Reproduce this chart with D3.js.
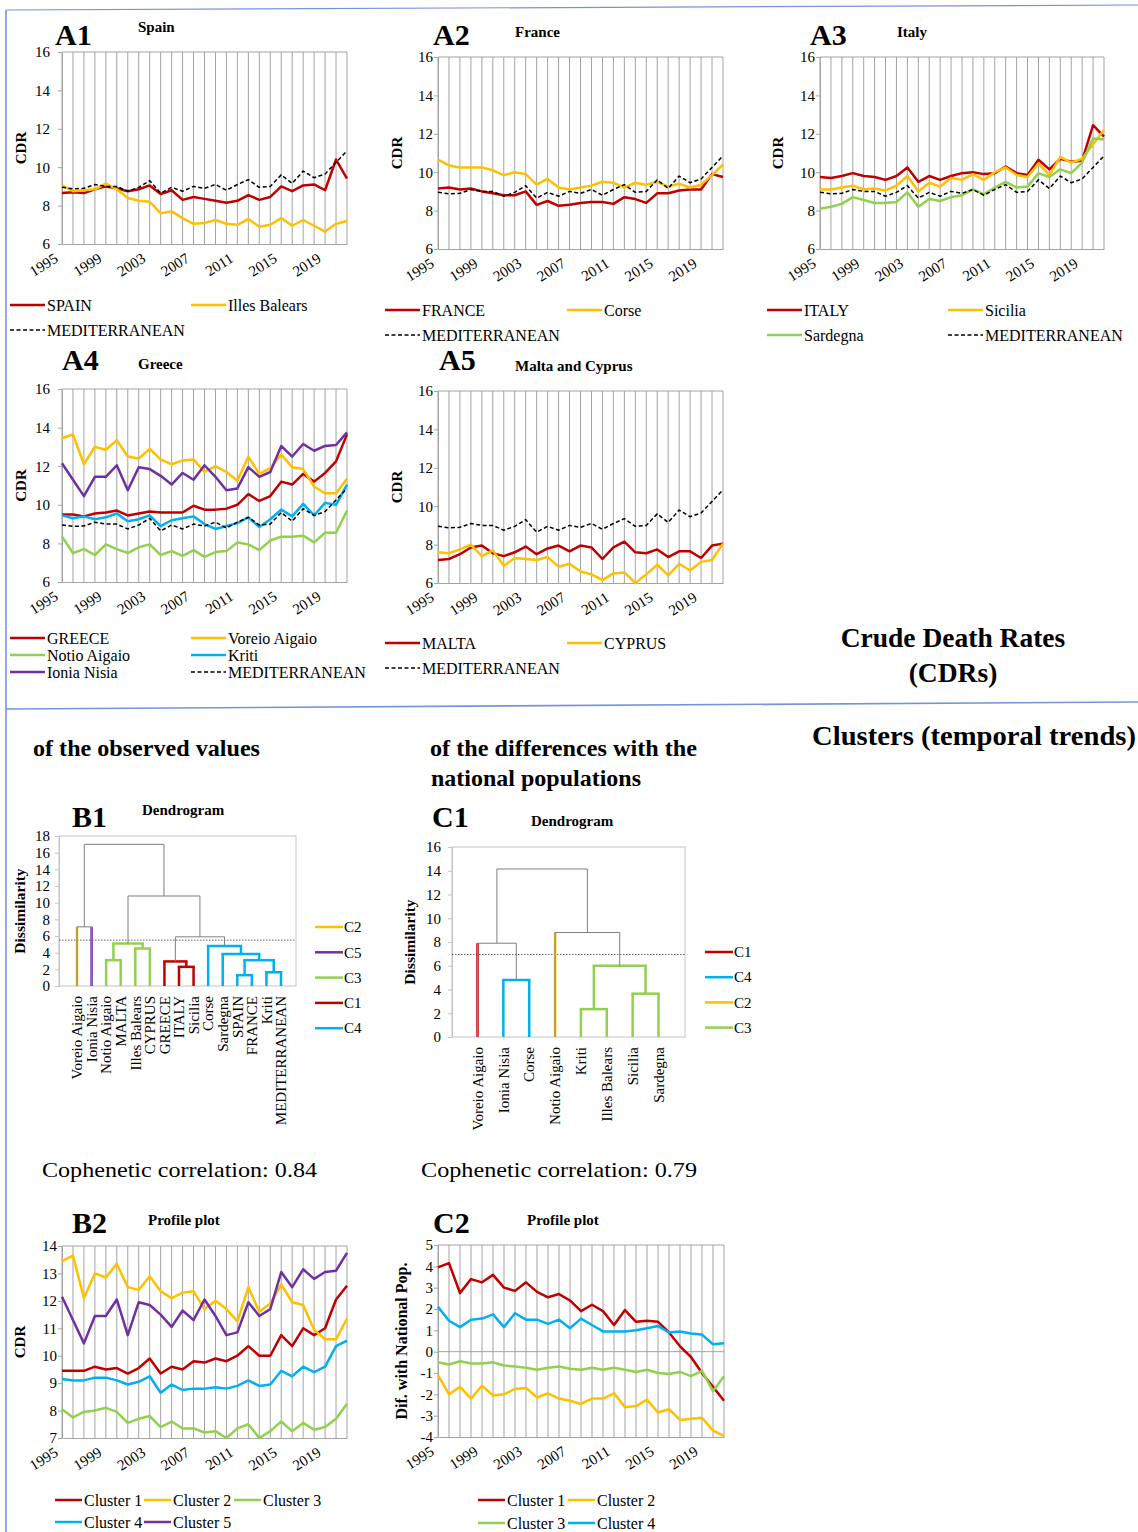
<!DOCTYPE html>
<html>
<head>
<meta charset="utf-8">
<script src="https://cdn.jsdelivr.net/npm/d3@7"></script>
<style>
  body { margin: 0; background: #fff; }
  svg { display: block; }
</style>
</head>
<body>
<svg id="fig" width="1138" height="1532"></svg>
<script>
// ---------- data ----------
const years = [1995,1996,1997,1998,1999,2000,2001,2002,2003,2004,2005,2006,2007,2008,2009,2010,2011,2012,2013,2014,2015,2016,2017,2018,2019,2020,2021];
const yearTicks = [1995,1999,2003,2007,2011,2015,2019];
const cdrTicks = [6,8,10,12,14,16];
const profileTicks = [7,8,9,10,11,12,13,14];
const diffTicks = [-4,-3,-2,-1,0,1,2,3,4,5];
const dissimTicksB = [0,2,4,6,8,10,12,14,16,18];
const dissimTicksC = [0,2,4,6,8,10,12,14,16];

const mediterranean = [8.95,8.88,8.9,9.1,9.0,9.0,8.75,8.95,9.3,8.65,8.95,8.75,9.0,8.9,9.1,8.8,9.1,9.35,8.95,9.0,9.6,9.15,9.8,9.45,9.65,10.25,10.85];
const spain = [8.65,8.7,8.65,8.85,9.0,8.9,8.75,8.85,9.05,8.6,8.8,8.3,8.45,8.35,8.25,8.15,8.25,8.55,8.3,8.45,9.0,8.75,9.05,9.1,8.8,10.4,9.4];
const illesBalears = [9.05,8.75,8.8,8.85,9.15,8.85,8.4,8.25,8.2,7.6,7.7,7.35,7.05,7.1,7.25,7.05,7.0,7.3,6.9,7.0,7.35,6.95,7.25,6.95,6.65,7.05,7.2];
const france = [9.15,9.2,9.1,9.15,9.0,8.9,8.8,8.8,9.0,8.3,8.5,8.25,8.3,8.4,8.45,8.45,8.35,8.7,8.6,8.4,8.9,8.9,9.05,9.1,9.1,9.9,9.75];
const corse = [10.65,10.35,10.25,10.25,10.25,10.1,9.85,10.0,9.9,9.35,9.65,9.2,9.1,9.2,9.3,9.5,9.45,9.2,9.45,9.35,9.5,9.25,9.4,9.2,9.35,9.85,10.4];
const italy = [9.75,9.7,9.8,9.95,9.8,9.75,9.6,9.8,10.25,9.5,9.8,9.6,9.8,9.95,10.0,9.9,9.95,10.3,9.95,9.85,10.65,10.15,10.7,10.55,10.6,12.45,11.85];
const sicilia = [9.1,9.1,9.2,9.3,9.1,9.15,9.05,9.3,9.8,9.0,9.45,9.25,9.7,9.6,9.9,9.6,10.0,10.25,9.85,9.75,10.45,9.85,10.8,10.5,10.7,11.45,12.2];
const sardegna = [8.1,8.2,8.35,8.7,8.55,8.4,8.4,8.45,8.95,8.2,8.6,8.5,8.7,8.8,9.1,8.85,9.2,9.5,9.2,9.25,9.95,9.75,10.15,9.95,10.5,11.75,11.7];
const greece = [9.5,9.5,9.4,9.55,9.6,9.7,9.45,9.55,9.65,9.6,9.6,9.6,9.95,9.75,9.75,9.8,10.0,10.55,10.2,10.45,11.2,11.05,11.6,11.2,11.65,12.25,13.65];
const voreioAigaio = [13.45,13.65,12.1,13.0,12.85,13.35,12.5,12.4,12.9,12.35,12.1,12.3,12.35,11.7,12.0,11.7,11.25,12.5,11.6,11.9,12.6,11.95,11.85,10.95,10.6,10.6,11.35];
const notioAigaio = [8.35,7.5,7.7,7.4,7.95,7.7,7.5,7.8,7.95,7.4,7.6,7.35,7.65,7.3,7.55,7.6,8.05,7.95,7.65,8.15,8.35,8.35,8.4,8.05,8.55,8.55,9.7];
const kriti = [9.45,9.3,9.4,9.25,9.35,9.55,9.15,9.25,9.45,8.9,9.2,9.3,9.4,9.0,8.75,8.9,9.05,9.35,8.85,9.25,9.75,9.4,10.05,9.45,10.1,10.0,11.05];
const ioniaNisia = [12.15,11.3,10.45,11.45,11.45,12.05,10.75,11.95,11.85,11.5,11.05,11.65,11.3,12.05,11.45,10.75,10.85,11.95,11.45,11.7,13.05,12.5,13.15,12.8,13.05,13.1,13.75];
const malta = [7.2,7.25,7.5,7.85,7.95,7.55,7.4,7.6,7.9,7.5,7.8,7.95,7.65,7.95,7.85,7.25,7.85,8.15,7.6,7.55,7.75,7.35,7.65,7.65,7.3,7.95,8.05];
const cyprus = [7.6,7.55,7.75,8.0,7.4,7.7,6.9,7.3,7.25,7.2,7.35,6.85,7.0,6.6,6.45,6.15,6.5,6.55,6.0,6.45,6.95,6.4,7.0,6.65,7.1,7.2,8.05];

// cluster mean profiles of the observed CDRs
const cluster1 = [9.45,9.45,9.45,9.6,9.5,9.55,9.35,9.55,9.9,9.35,9.6,9.5,9.8,9.75,9.9,9.8,10.0,10.35,10.0,10.0,10.75,10.35,11.0,10.75,11.0,12.05,12.55];
const cluster2 = [13.45,13.65,12.1,13.0,12.85,13.35,12.5,12.4,12.9,12.35,12.1,12.3,12.35,11.7,12.0,11.7,11.25,12.5,11.6,11.9,12.6,11.95,11.85,10.95,10.6,10.6,11.35];
const cluster3 = [8.05,7.75,7.95,8.0,8.1,7.95,7.55,7.7,7.8,7.4,7.6,7.35,7.35,7.2,7.25,7.0,7.35,7.5,7.0,7.25,7.6,7.25,7.55,7.3,7.4,7.7,8.25];
const cluster4 = [9.15,9.1,9.1,9.2,9.2,9.1,8.95,9.05,9.25,8.65,8.95,8.75,8.8,8.8,8.85,8.8,8.9,9.1,8.9,8.95,9.45,9.25,9.6,9.4,9.6,10.35,10.55];
const cluster5 = [12.15,11.3,10.45,11.45,11.45,12.05,10.75,11.95,11.85,11.5,11.05,11.65,11.3,12.05,11.45,10.75,10.85,11.95,11.45,11.7,13.05,12.5,13.15,12.8,13.05,13.1,13.75];

// cluster mean profiles of the differences with the national populations
const diffCluster1 = [3.95,4.15,2.75,3.4,3.25,3.6,3.0,2.85,3.25,2.8,2.55,2.7,2.4,1.9,2.2,1.9,1.25,1.95,1.4,1.45,1.4,0.9,0.25,-0.25,-1.0,-1.65,-2.3];
const diffCluster2 = [-1.1,-2.0,-1.65,-2.2,-1.6,-2.05,-2.0,-1.75,-1.7,-2.15,-1.95,-2.2,-2.3,-2.45,-2.2,-2.2,-1.95,-2.6,-2.55,-2.25,-2.85,-2.7,-3.2,-3.15,-3.1,-3.7,-3.95];
const diffCluster3 = [-0.5,-0.6,-0.45,-0.55,-0.55,-0.5,-0.65,-0.7,-0.75,-0.85,-0.75,-0.7,-0.8,-0.85,-0.75,-0.85,-0.75,-0.85,-0.95,-0.85,-1.0,-1.05,-0.95,-1.15,-0.9,-1.85,-1.15];
const diffCluster4 = [2.1,1.45,1.15,1.5,1.55,1.75,1.15,1.8,1.5,1.5,1.3,1.5,1.1,1.55,1.25,0.95,0.95,0.95,1.0,1.1,1.2,0.9,0.95,0.85,0.8,0.35,0.4];

// dendrogram of observed values (agglomeration heights = dissimilarity)
const obsLeafClusters = {
  "Voreio Aigaio":"C2","Ionia Nisia":"C5","Notio Aigaio":"C3","MALTA":"C3","Illes Balears":"C3","CYPRUS":"C3",
  "GREECE":"C1","ITALY":"C1","Sicilia":"C1","Corse":"C4","Sardegna":"C4","SPAIN":"C4","FRANCE":"C4","Kriti":"C4","MEDITERRANEAN":"C4"
};
const obsTree = {h:17.0, children:[
  {h:7.1, children:[{name:"Voreio Aigaio"},{name:"Ionia Nisia"}]},
  {h:10.8, children:[
    {h:5.1, children:[
      {h:3.1, children:[{name:"Notio Aigaio"},{name:"MALTA"}]},
      {h:4.5, children:[{name:"Illes Balears"},{name:"CYPRUS"}]}
    ]},
    {h:5.9, children:[
      {h:2.95, children:[{name:"GREECE"},{h:2.3, children:[{name:"ITALY"},{name:"Sicilia"}]}]},
      {h:4.8, children:[{name:"Corse"},{h:3.85, children:[{name:"Sardegna"},
        {h:3.1, children:[
          {h:1.3, children:[{name:"SPAIN"},{name:"FRANCE"}]},
          {h:1.65, children:[{name:"Kriti"},{name:"MEDITERRANEAN"}]}
        ]}]}]}
    ]}
  ]}
]};
const obsCut = 5.5;
const obsLegend = ["C2","C5","C3","C1","C4"];

// dendrogram of differences with national populations
const diffLeafClusters = {
  "Voreio Aigaio":"C1","Ionia Nisia":"C4","Corse":"C4","Notio Aigaio":"C2",
  "Kriti":"C3","Illes Balears":"C3","Sicilia":"C3","Sardegna":"C3"
};
const diffTree = {h:14.15, children:[
  {h:7.9, children:[{name:"Voreio Aigaio"},{h:4.8, children:[{name:"Ionia Nisia"},{name:"Corse"}]}]},
  {h:8.8, children:[{name:"Notio Aigaio"},
    {h:6.0, children:[
      {h:2.35, children:[{name:"Kriti"},{name:"Illes Balears"}]},
      {h:3.65, children:[{name:"Sicilia"},{name:"Sardegna"}]}
    ]}]}
]};
const diffCut = 6.95;
const diffLegend = ["C1","C4","C2","C3"];

// ---------- styles ----------
const SERIF = "'Liberation Serif','Times New Roman',serif";
const RED = "#c00000", YEL = "#ffc000", GRN = "#92d050", BLU = "#00b0f0", PUR = "#7030a0";
const GRID = "#a3a3a3", FRAME = "#7196d8", LINKGRAY = "#7f7f7f";
const clusterColor = {C1: RED, C2: YEL, C3: GRN, C4: BLU, C5: PUR};

const svg = d3.select("#fig").attr("font-family", SERIF);

function txt(x, y, s, size, weight, anchor) {
  return svg.append("text").attr("x", x).attr("y", y).text(s)
    .attr("font-size", size).attr("font-weight", weight || "normal")
    .attr("text-anchor", anchor || "start").attr("fill", "#000");
}

// ---------- frame ----------
svg.append("line").attr("x1", 6).attr("y1", 10).attr("x2", 6).attr("y2", 1532)
  .attr("stroke", FRAME).attr("stroke-width", 1.6);
svg.append("line").attr("x1", 6).attr("y1", 10).attr("x2", 1138).attr("y2", 5)
  .attr("stroke", FRAME).attr("stroke-width", 1.2);
svg.append("line").attr("x1", 6).attr("y1", 709).attr("x2", 1138).attr("y2", 702)
  .attr("stroke", FRAME).attr("stroke-width", 1.6);

// ---------- line panels ----------
function linePanel(p) {
  const g = svg.append("g");
  const x = d3.scalePoint().domain(years).range([p.left, p.right]);
  const y = d3.scaleLinear().domain(p.yDomain).range([p.bottom, p.top]);

  g.append("g").selectAll("line").data(years).join("line")
    .attr("x1", d => x(d)).attr("x2", d => x(d))
    .attr("y1", p.top).attr("y2", p.bottom)
    .attr("stroke", GRID).attr("stroke-width", 1);
  g.append("line").attr("x1", p.left).attr("x2", p.right)
    .attr("y1", p.top).attr("y2", p.top).attr("stroke", GRID);

  const ya = g.append("g").attr("transform", `translate(${p.left},0)`)
    .call(d3.axisLeft(y).tickValues(p.yTicks).tickFormat(d => String(d))
      .tickSize(4).tickSizeOuter(0).tickPadding(Math.max(1, p.gap - 4)));
  ya.attr("font-family", SERIF).attr("font-size", 15);
  ya.select(".domain").attr("stroke", GRID);
  ya.selectAll(".tick line").attr("stroke", GRID);
  ya.selectAll(".tick text").attr("fill", "#000");

  const xa = g.append("g").attr("transform", `translate(0,${p.bottom})`)
    .call(d3.axisBottom(x).tickValues([]).tickSizeOuter(0));
  xa.select(".domain").attr("stroke", GRID);
  if (p.zeroLine) {
    g.append("line").attr("x1", p.left).attr("x2", p.right)
      .attr("y1", y(0)).attr("y2", y(0)).attr("stroke", GRID);
  }
  g.append("g").selectAll("text").data(yearTicks).join("text")
    .attr("transform", d => `translate(${x(d) - 3},${p.bottom + 17}) rotate(-32)`)
    .attr("text-anchor", "end").attr("font-size", 15).text(d => d);

  g.append("text")
    .attr("transform", `translate(${p.ylabX},${(p.top + p.bottom) / 2}) rotate(-90)`)
    .attr("text-anchor", "middle").attr("dy", "0.35em")
    .attr("font-size", p.ylabSize || 15).attr("font-weight", "bold").text(p.ylab);

  const line = d3.line().x((d, i) => x(years[i])).y(d => y(d));
  p.series.forEach(s => {
    g.append("path").attr("d", line(s.values)).attr("fill", "none")
      .attr("stroke", s.color).attr("stroke-width", s.dashed ? 1.5 : 2.5)
      .attr("stroke-dasharray", s.dashed ? "4,2.5" : null)
      .attr("stroke-linejoin", "round");
  });

  p.series.forEach(s => {
    const lx = s.lx, ly = s.ly, len = p.legendLen || 35;
    g.append("line").attr("x1", lx).attr("x2", lx + len).attr("y1", ly).attr("y2", ly)
      .attr("stroke", s.color).attr("stroke-width", s.dashed ? 1.5 : 2.5)
      .attr("stroke-dasharray", s.dashed ? "4,2.5" : null);
    g.append("text").attr("x", lx + len + 2).attr("y", ly).attr("dy", "0.35em")
      .attr("font-size", p.legendSize || 16).text(s.name);
  });

  txt(p.tagX, p.tagY, p.tag, 30, "bold");
  txt(p.titleX, p.titleY, p.title, 15, "bold");
}

const MEDIT = "MEDITERRANEAN";

linePanel({
  tag: "A1", tagX: 55, tagY: 45, title: "Spain", titleX: 138, titleY: 32,
  left: 62, right: 347, top: 52, bottom: 244, gap: 12, ylabX: 21, ylab: "CDR",
  yDomain: [6, 16], yTicks: cdrTicks,
  series: [
    {name: "SPAIN", values: spain, color: RED, lx: 10, ly: 305},
    {name: "Illes Balears", values: illesBalears, color: YEL, lx: 191, ly: 305},
    {name: MEDIT, values: mediterranean, color: "#000", dashed: true, lx: 10, ly: 330}
  ]
});
linePanel({
  tag: "A2", tagX: 433, tagY: 45, title: "France", titleX: 515, titleY: 37,
  left: 438, right: 723, top: 57, bottom: 249, gap: 5, ylabX: 397, ylab: "CDR",
  yDomain: [6, 16], yTicks: cdrTicks,
  series: [
    {name: "FRANCE", values: france, color: RED, lx: 385, ly: 310},
    {name: "Corse", values: corse, color: YEL, lx: 567, ly: 310},
    {name: MEDIT, values: mediterranean, color: "#000", dashed: true, lx: 385, ly: 335}
  ]
});
linePanel({
  tag: "A3", tagX: 810, tagY: 45, title: "Italy", titleX: 897, titleY: 37,
  left: 820, right: 1104, top: 57, bottom: 249, gap: 5, ylabX: 778, ylab: "CDR",
  yDomain: [6, 16], yTicks: cdrTicks,
  series: [
    {name: "ITALY", values: italy, color: RED, lx: 767, ly: 310},
    {name: "Sicilia", values: sicilia, color: YEL, lx: 948, ly: 310},
    {name: "Sardegna", values: sardegna, color: GRN, lx: 767, ly: 335},
    {name: MEDIT, values: mediterranean, color: "#000", dashed: true, lx: 948, ly: 335}
  ]
});
linePanel({
  tag: "A4", tagX: 62, tagY: 370, title: "Greece", titleX: 138, titleY: 369,
  left: 62, right: 347, top: 389, bottom: 582, gap: 12, ylabX: 21, ylab: "CDR",
  yDomain: [6, 16], yTicks: cdrTicks,
  series: [
    {name: "GREECE", values: greece, color: RED, lx: 10, ly: 638},
    {name: "Voreio Aigaio", values: voreioAigaio, color: YEL, lx: 191, ly: 638},
    {name: "Notio Aigaio", values: notioAigaio, color: GRN, lx: 10, ly: 655},
    {name: "Kriti", values: kriti, color: BLU, lx: 191, ly: 655},
    {name: "Ionia Nisia", values: ioniaNisia, color: PUR, lx: 10, ly: 672},
    {name: MEDIT, values: mediterranean, color: "#000", dashed: true, lx: 191, ly: 672}
  ]
});
linePanel({
  tag: "A5", tagX: 439, tagY: 370, title: "Malta and Cyprus", titleX: 515, titleY: 371,
  left: 438, right: 723, top: 391, bottom: 583, gap: 5, ylabX: 397, ylab: "CDR",
  yDomain: [6, 16], yTicks: cdrTicks,
  series: [
    {name: "MALTA", values: malta, color: RED, lx: 385, ly: 643},
    {name: "CYPRUS", values: cyprus, color: YEL, lx: 567, ly: 643},
    {name: MEDIT, values: mediterranean, color: "#000", dashed: true, lx: 385, ly: 668}
  ]
});
linePanel({
  tag: "B2", tagX: 72, tagY: 1233, title: "Profile plot", titleX: 148, titleY: 1225,
  left: 62, right: 347, top: 1246, bottom: 1438, gap: 5, ylabX: 20, ylab: "CDR",
  yDomain: [7, 14], yTicks: profileTicks, legendLen: 27, legendSize: 16,
  series: [
    {name: "Cluster 1", values: cluster1, color: RED, lx: 55, ly: 1500},
    {name: "Cluster 2", values: cluster2, color: YEL, lx: 144, ly: 1500},
    {name: "Cluster 3", values: cluster3, color: GRN, lx: 234, ly: 1500},
    {name: "Cluster 4", values: cluster4, color: BLU, lx: 55, ly: 1522},
    {name: "Cluster 5", values: cluster5, color: PUR, lx: 144, ly: 1522}
  ]
});
linePanel({
  tag: "C2", tagX: 433, tagY: 1233, title: "Profile plot", titleX: 527, titleY: 1225,
  left: 438, right: 724, top: 1245, bottom: 1437, gap: 4, ylabX: 401, ylab: "Dif. with National Pop.",
  ylabSize: 16, yDomain: [-4, 5], yTicks: diffTicks, zeroLine: true, legendLen: 27, legendSize: 16,
  series: [
    {name: "Cluster 1", values: diffCluster1, color: RED, lx: 478, ly: 1500},
    {name: "Cluster 2", values: diffCluster2, color: YEL, lx: 568, ly: 1500},
    {name: "Cluster 3", values: diffCluster3, color: GRN, lx: 478, ly: 1523},
    {name: "Cluster 4", values: diffCluster4, color: BLU, lx: 568, ly: 1523}
  ]
});

// ---------- dendrograms ----------
function dendroPanel(p) {
  const g = svg.append("g");
  const root = d3.hierarchy(p.tree);
  const names = root.leaves().map(d => d.data.name);
  const x = d3.scalePoint().domain(names).range([p.leaf0, p.leaf1]);
  const y = d3.scaleLinear().domain([0, p.yMax]).range([p.bottom, p.top]);

  root.eachAfter(n => {
    if (!n.children) { n.px = x(n.data.name); n.hh = 0; n.cl = p.clusters[n.data.name]; }
    else {
      n.px = d3.mean(n.children, c => c.px);
      n.hh = n.data.h;
      n.cl = n.hh < p.cut ? n.children[0].cl : null;
    }
  });

  g.append("rect").attr("x", p.left).attr("y", p.top)
    .attr("width", p.right - p.left).attr("height", p.bottom - p.top)
    .attr("fill", "none").attr("stroke", "#c4c4c4");
  const ya = g.append("g").attr("transform", `translate(${p.left},0)`)
    .call(d3.axisLeft(y).tickValues(p.ticks).tickFormat(d => String(d))
      .tickSize(4).tickSizeOuter(0).tickPadding(p.pad));
  ya.attr("font-family", SERIF).attr("font-size", 15);
  ya.select(".domain").attr("stroke", "#c4c4c4");
  ya.selectAll(".tick line").attr("stroke", "#c4c4c4");
  ya.selectAll(".tick text").attr("fill", "#000");

  g.append("line").attr("x1", p.left).attr("x2", p.right)
    .attr("y1", y(p.cut)).attr("y2", y(p.cut))
    .attr("stroke", "#555").attr("stroke-width", 0.9).attr("stroke-dasharray", "1.5,1.5");

  const colored = g.append("g"), gray = g.append("g");
  root.each(n => {
    if (!n.children) return;
    const parentColor = n.cl ? clusterColor[n.cl] : null;
    n.children.forEach(c => {
      if (parentColor) {
        colored.append("line").attr("x1", c.px).attr("x2", c.px)
          .attr("y1", y(c.hh)).attr("y2", y(n.hh))
          .attr("stroke", parentColor).attr("stroke-width", 2.5);
      } else {
        if (!c.children) {
          colored.append("line").attr("x1", c.px).attr("x2", c.px)
            .attr("y1", y(0)).attr("y2", y(n.hh))
            .attr("stroke", clusterColor[c.cl]).attr("stroke-width", 2.5);
        }
        gray.append("line").attr("x1", c.px).attr("x2", c.px)
          .attr("y1", y(c.hh)).attr("y2", y(n.hh))
          .attr("stroke", LINKGRAY).attr("stroke-width", 1);
      }
    });
    const [a, b] = n.children;
    (parentColor ? colored : gray).append("line")
      .attr("x1", a.px - (parentColor ? 1.25 : 0)).attr("x2", b.px + (parentColor ? 1.25 : 0))
      .attr("y1", y(n.hh)).attr("y2", y(n.hh))
      .attr("stroke", parentColor || LINKGRAY).attr("stroke-width", parentColor ? 2.5 : 1);
  });

  g.append("g").selectAll("text").data(names).join("text")
    .attr("transform", d => `translate(${x(d)},${p.bottom + 10}) rotate(-90)`)
    .attr("text-anchor", "end").attr("dy", "0.35em").attr("font-size", 15).text(d => d);

  g.append("text")
    .attr("transform", `translate(${p.ylabX},${(p.top + p.bottom) / 2}) rotate(-90)`)
    .attr("text-anchor", "middle").attr("dy", "0.35em")
    .attr("font-size", 15.5).attr("font-weight", "bold").text("Dissimilarity");

  p.legend.forEach((c, i) => {
    const ly = p.legY0 + i * p.legStep;
    g.append("line").attr("x1", p.legX).attr("x2", p.legX + 28).attr("y1", ly).attr("y2", ly)
      .attr("stroke", clusterColor[c]).attr("stroke-width", 2.5);
    g.append("text").attr("x", p.legX + 29).attr("y", ly).attr("dy", "0.35em")
      .attr("font-size", 15).text(c);
  });

  txt(p.tagX, p.tagY, p.tag, 30, "bold");
  txt(p.titleX, p.titleY, "Dendrogram", 15, "bold");
}

dendroPanel({
  tag: "B1", tagX: 72, tagY: 827, titleX: 142, titleY: 815,
  tree: obsTree, clusters: obsLeafClusters, cut: obsCut, legend: obsLegend,
  left: 59, right: 296, top: 836, bottom: 986, yMax: 18, ticks: dissimTicksB, pad: 5,
  leaf0: 77, leaf1: 281, ylabX: 20, legX: 315, legY0: 927, legStep: 25.3
});
dendroPanel({
  tag: "C1", tagX: 432, tagY: 827, titleX: 531, titleY: 826,
  tree: diffTree, clusters: diffLeafClusters, cut: diffCut, legend: diffLegend,
  left: 452, right: 685, top: 847, bottom: 1037, yMax: 16, ticks: dissimTicksC, pad: 7,
  leaf0: 477.5, leaf1: 658.5, ylabX: 410, legX: 705, legY0: 952, legStep: 25.2
});

// ---------- headings ----------
txt(953, 647, "Crude Death Rates", 27.5, "bold", "middle");
txt(953, 682, "(CDRs)", 27.5, "bold", "middle");
txt(812, 745, "Clusters (temporal trends)", 28, "bold").attr("textLength", 324).attr("lengthAdjust", "spacingAndGlyphs");
txt(33, 756, "of the observed values", 23, "bold").attr("textLength", 227).attr("lengthAdjust", "spacingAndGlyphs");
txt(430, 756, "of the differences with the", 23, "bold").attr("textLength", 267).attr("lengthAdjust", "spacingAndGlyphs");
txt(431, 786, "national populations", 23, "bold").attr("textLength", 210).attr("lengthAdjust", "spacingAndGlyphs");
txt(42, 1177, "Cophenetic correlation: 0.84", 22).attr("textLength", 275).attr("lengthAdjust", "spacingAndGlyphs");
txt(421, 1177, "Cophenetic correlation: 0.79", 22).attr("textLength", 276).attr("lengthAdjust", "spacingAndGlyphs");
</script>
</body>
</html>
